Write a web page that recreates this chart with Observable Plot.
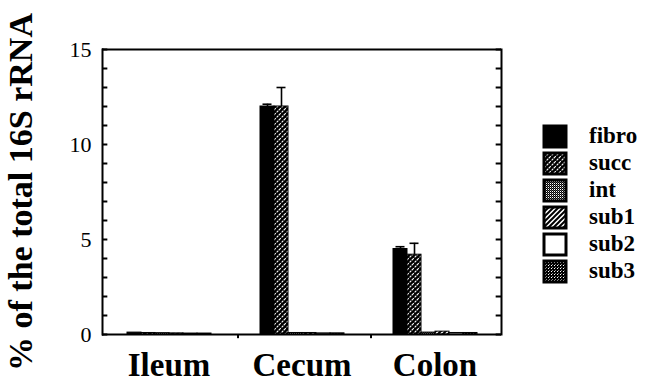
<!DOCTYPE html>
<html><head><meta charset="utf-8">
<script src="https://cdn.jsdelivr.net/npm/d3@7"></script>
<script src="https://cdn.jsdelivr.net/npm/@observablehq/plot@0.6"></script>
<style>
body{margin:0;background:#fff;}
#wrap{position:relative;width:647px;height:384px;}
#legend{position:absolute;left:544px;top:123px;}
.lg-swatch svg{margin-right:23px !important;}
.lg-swatch svg rect{stroke:#000;stroke-width:3px;}
</style></head><body>
<svg width="0" height="0" style="position:absolute">
<defs>
<pattern id="p-succ" patternUnits="userSpaceOnUse" width="5" height="5">
 <rect width="5" height="5" fill="#000"/>
 <path d="M0,5L5,0M-1,1L1,-1M4,6L6,4" stroke="#fff" stroke-width="1.1" stroke-dasharray="2.5 1.2"/>
</pattern>
<pattern id="p-int" patternUnits="userSpaceOnUse" width="2" height="2">
 <rect width="2" height="2" fill="#fff"/>
 <rect width="1" height="1" fill="#000"/>
 <rect x="1" y="1" width="1" height="1" fill="#000"/>
 <rect x="1" y="0" width="1" height="1" fill="#555"/>
</pattern>
<pattern id="p-sub1" patternUnits="userSpaceOnUse" width="5" height="5">
 <rect width="5" height="5" fill="#fff"/>
 <path d="M0,5L5,0M-1,1L1,-1M4,6L6,4" stroke="#000" stroke-width="2"/>
</pattern>
<pattern id="p-sub3" patternUnits="userSpaceOnUse" width="3" height="3">
 <rect width="3" height="3" fill="#000"/>
 <rect x="1" y="1" width="1" height="1" fill="#fff"/>
 <rect x="2" y="0" width="1" height="1" fill="#888"/>
</pattern>
</defs></svg>
<div id="wrap"><div id="legend"></div></div>
<script>
const regions = ["Ileum", "Cecum", "Colon"];
const series = ["fibro", "succ", "int", "sub1", "sub2", "sub3"];
const fills = ["#000", "url(#p-succ)", "url(#p-int)", "url(#p-sub1)", "#fff", "url(#p-sub3)"];
const fibro = [0.1, 12.0, 4.5];
const succ = [0.08, 12.0, 4.2];
const int = [0.07, 0.08, 0.1];
const sub1 = [0.06, 0.08, 0.15];
const sub2 = [0.05, 0.06, 0.08];
const sub3 = [0.05, 0.06, 0.08];
const fibroErr = [0, 0.12, 0.12];
const succErr = [0, 1.0, 0.6];
const yTicks = [0, 5, 10, 15];
const yMinor = d3.range(0, 16);
const yTitle = "% of the total 16S rRNA";

const seriesValues = [fibro, succ, int, sub1, sub2, sub3];
const data = regions.flatMap((r, i) => series.map((s, j) => ({region: r, series: s, value: seriesValues[j][i]})));
const errData = [];
[[series[0], fibro, fibroErr], [series[1], succ, succErr]].forEach(([s, vals, errs]) => {
  regions.forEach((r, i) => { if (errs[i] > 0) errData.push({region: r, series: s, value: vals[i], err: errs[i]}); });
});

const W = 647, mL = 101, mR = 145, inset = 22, tick = 6;
const fw = (W - mL - mR) / regions.length;
const bw = (fw - 2 * inset) / series.length;
const serif = "'Liberation Serif', 'Times New Roman', serif";
const ink = "black";

const chart = Plot.plot({
  width: W, height: 384,
  marginLeft: mL, marginRight: mR, marginTop: 49, marginBottom: 50,
  style: {background: "white", fontFamily: serif, color: "black"},
  fx: {domain: regions, padding: 0},
  x: {domain: series, padding: 0, insetLeft: inset, insetRight: inset, axis: null},
  y: {domain: [0, 15]},
  color: {domain: series, range: fills},
  marks: [
    Plot.barY(data, {fx: "region", x: "series", y: "value", fill: "series", stroke: ink, strokeWidth: 1}),
    Plot.ruleX(errData, {fx: "region", x: "series", y1: "value", y2: d => d.value + d.err, stroke: ink, strokeWidth: 1.6}),
    Plot.tickY(errData, {fx: "region", x: "series", y: d => d.value + d.err, insetLeft: 2.5, insetRight: 2.5, stroke: ink, strokeWidth: 1.6}),
    Plot.ruleY([0, 15], {stroke: ink, strokeWidth: 2}),
    Plot.frame({anchor: "left", facetAnchor: "left", stroke: ink, strokeWidth: 2}),
    Plot.frame({anchor: "right", facetAnchor: "right", stroke: ink, strokeWidth: 2}),
    Plot.ruleY(yMinor, {facetAnchor: "left", insetRight: fw - tick, stroke: ink, strokeWidth: 2}),
    Plot.ruleY(yMinor, {facetAnchor: "right", insetLeft: fw - tick, stroke: ink, strokeWidth: 2}),
    Plot.ruleX(regions.slice(1), {fx: d => d, x: () => series[0], y1: 0, y2: -0.22, dx: -(bw / 2 + inset), stroke: ink, strokeWidth: 2}),
    Plot.axisY({anchor: "left", ticks: yTicks, tickSize: 0, tickPadding: 11, fontSize: 22, label: null}),
    Plot.axisY({anchor: "left", ticks: [], tickSize: 0, label: yTitle, labelAnchor: "center", labelOffset: 95, labelArrow: "none", fontSize: 34, fontWeight: "bold"}),
    Plot.axisFx({anchor: "bottom", tickSize: 0, tickPadding: 18, fontSize: 33, fontWeight: "bold", label: null})
  ]
});
document.getElementById("wrap").prepend(chart);

const legend = Plot.legend({
  color: {type: "ordinal", domain: series, range: fills},
  columns: 1, swatchWidth: 22, swatchHeight: 21, className: "lg",
  style: {fontSize: "23px", fontWeight: "bold", fontFamily: serif, color: "black", background: "transparent"}
});
document.getElementById("legend").append(legend);
</script>
</body></html>
